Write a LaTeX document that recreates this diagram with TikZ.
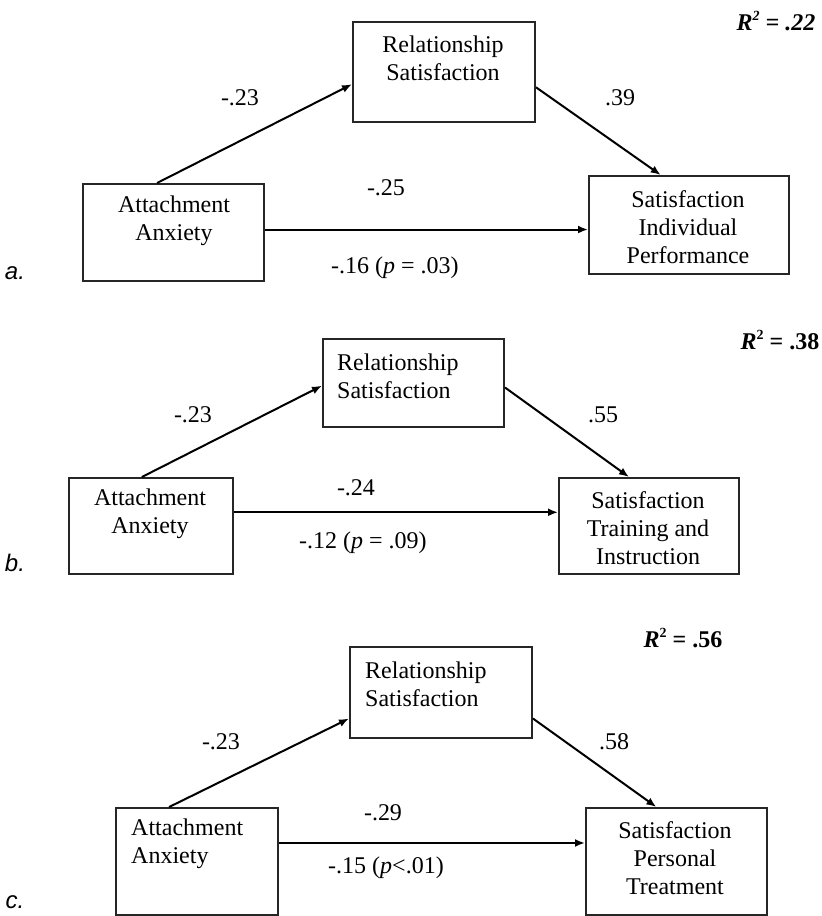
\documentclass[tikz,border=0pt]{standalone}
\usepackage{fontspec}
\setmainfont{Liberation Serif}
\newfontfamily\panelfont{Liberation Sans}
\usetikzlibrary{arrows.meta,calc}
\newcommand{\sqtwo}{\raisebox{0.42em}{\fontsize{14}{14}\selectfont 2}}
\begin{document}
\begin{tikzpicture}[x=1pt,y=-1pt,
  box/.style={draw, line width=2pt, inner sep=0pt, anchor=north west, draw=black!85},
  txt/.style={font=\fontsize{24}{28}\selectfont, inner sep=0pt, align=center},
  txl/.style={font=\fontsize{24}{28}\selectfont, inner sep=0pt, align=left, anchor=west},
  num/.style={font=\fontsize{24}{28}\selectfont, inner sep=0pt},
  rsq/.style={font=\fontsize{24}{28}\selectfont\bfseries, inner sep=0pt},
  pnl/.style={font=\fontsize{24}{28}\selectfont\panelfont\itshape, inner sep=0pt},
  arr/.style={line width=2pt, -{Latex[length=10pt,width=8pt]}}]
\useasboundingbox (0,0) rectangle (822,916);

% ---------------- panel a ----------------
\node[box, minimum width=182pt, minimum height=100pt] (rsA) at (352,21) {};
\node[box, minimum width=181pt, minimum height=97pt] (aaA) at (82,183) {};
\node[box, minimum width=200pt, minimum height=98pt] (tgA) at (588,175) {};
\node[txt] (rsAt) at (443,58) {Relationship\\Satisfaction};
\node[txt] (aaAt) at (174,221) {Attachment\\Anxiety};
\node[txt] (tgAt) at (688,227) {Satisfaction\\Individual\\Performance};
\draw[arr] ($(aaA.north west)!0.41!(aaA.north east)$) -- ($(rsA.north west)!0.62!(rsA.south west)$);
\draw[arr] ($(rsA.north east)!0.65!(rsA.south east)$) -- ($(tgA.north west)!0.36!(tgA.north east)$);
\coordinate (sA) at ($(aaA.north east)!0.47!(aaA.south east)$);
\draw[arr] (sA) -- (sA -| tgA.west);
\node[num] (l1A) at (240,98) {-.23};
\node[num] (l2A) at (620,98) {.39};
\node[num] (l3A) at (386,188) {-.25};
\node[num] (l4A) at (395,268) {-.16 (\textit{p} = .03)};
\node[rsq] (r2A) at (776,21) {\itshape R\sqtwo{} = .22};
\node[pnl] (pA) at (15,273) {a.};

% ---------------- panel b ----------------
\node[box, minimum width=181pt, minimum height=88pt] (rsB) at (322,338) {};
\node[box, minimum width=164pt, minimum height=96pt] (aaB) at (68,477) {};
\node[box, minimum width=180pt, minimum height=96pt] (tgB) at (558,477) {};
\node[txl] (rsBt) at (337,376) {Relationship\\Satisfaction};
\node[txt] (aaBt) at (150,514) {Attachment\\Anxiety};
\node[txt] (tgBt) at (648,528) {Satisfaction\\Training and\\Instruction};
\draw[arr] ($(aaB.north west)!0.445!(aaB.north east)$) -- ($(rsB.north west)!0.53!(rsB.south west)$);
\draw[arr] ($(rsB.north east)!0.55!(rsB.south east)$) -- ($(tgB.north west)!0.39!(tgB.north east)$);
\coordinate (sB) at ($(aaB.north east)!0.36!(aaB.south east)$);
\draw[arr] (sB) -- (sB -| tgB.west);
\node[num] (l1B) at (193,415) {-.23};
\node[num] (l2B) at (603,415) {.55};
\node[num] (l3B) at (356,488) {-.24};
\node[num] (l4B) at (363,543) {-.12 (\textit{p} = .09)};
\node[rsq] (r2B) at (780,340) {\textit{R}\sqtwo{} = .38};
\node[pnl] (pB) at (15,563) {b.};

% ---------------- panel c ----------------
\node[box, minimum width=182pt, minimum height=91pt] (rsC) at (349,646) {};
\node[box, minimum width=162pt, minimum height=107pt] (aaC) at (115,807) {};
\node[box, minimum width=181pt, minimum height=107pt] (tgC) at (585,807) {};
\node[txl] (rsCt) at (365,684) {Relationship\\Satisfaction};
\node[txl] (aaCt) at (131,844) {Attachment\\Anxiety};
\node[txt] (tgCt) at (675,858) {Satisfaction\\Personal\\Treatment};
\draw[arr] ($(aaC.north west)!0.33!(aaC.north east)$) -- ($(rsC.north west)!0.78!(rsC.south west)$);
\draw[arr] ($(rsC.north east)!0.78!(rsC.south east)$) -- ($(tgC.north west)!0.39!(tgC.north east)$);
\coordinate (sC) at ($(aaC.north east)!0.33!(aaC.south east)$);
\draw[arr] (sC) -- (sC -| tgC.west);
\node[num] (l1C) at (221,742) {-.23};
\node[num] (l2C) at (614,742) {.58};
\node[num] (l3C) at (383,813) {-.29};
\node[num] (l4C) at (386,868) {-.15 (\textit{p}<.01)};
\node[rsq] (r2C) at (683,638) {\textit{R}\sqtwo{} = .56};
\node[pnl] (pC) at (15,902) {c.};
\end{tikzpicture}
\end{document}
